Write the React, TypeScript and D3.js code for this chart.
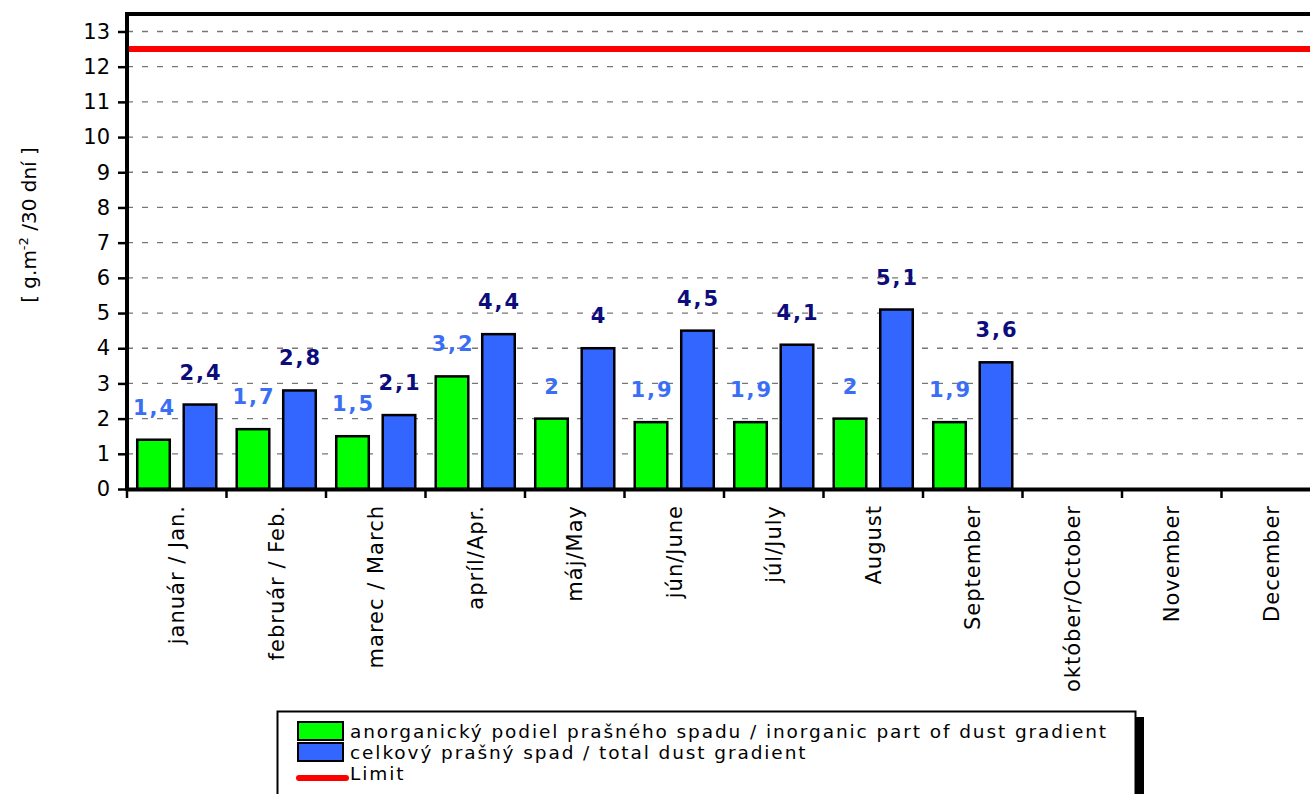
import { useEffect, useRef } from "react";
import * as d3 from "d3";

const months = [
  "január / Jan.",
  "február / Feb.",
  "marec / March",
  "apríl/Apr.",
  "máj/May",
  "jún/June",
  "júl/July",
  "August",
  "September",
  "október/October",
  "November",
  "December",
];
// inorganic part (green), total dust (blue); null = no data yet
const inorganic = [1.4, 1.7, 1.5, 3.2, 2, 1.9, 1.9, 2, 1.9, null, null, null];
const total = [2.4, 2.8, 2.1, 4.4, 4, 4.5, 4.1, 5.1, 3.6, null, null, null];
const limit = 12.5;
const yTicks = [0, 1, 2, 3, 4, 5, 6, 7, 8, 9, 10, 11, 12, 13];
const legendLabels = [
  "anorganický podiel prašného spadu / inorganic part of dust gradient",
  "celkový prašný spad / total dust gradient",
  "Limit",
];

const FONT = "'Comic Sans MS', 'DejaVu Sans', sans-serif";

const App = () => {
  const svgRef = useRef<SVGSVGElement | null>(null);

  useEffect(() => {
    const svg = d3.select(svgRef.current);
    svg.selectAll("*").remove();

    const left = 127;
    const right = 1321;
    const bottom = 489;
    const top = 14;

    const x = d3.scaleBand().domain(months).range([left, right]);
    const inner = d3
      .scaleBand()
      .domain(["g", "b"])
      .range([0, x.bandwidth()])
      .paddingInner(0.3)
      .paddingOuter(0.22);
    const y = d3.scaleLinear().domain([0, 13]).range([bottom, 31.5]);

    // grid
    svg
      .append("g")
      .selectAll("line")
      .data(yTicks.filter((d) => d > 0))
      .enter()
      .append("line")
      .attr("x1", left)
      .attr("x2", right)
      .attr("y1", (d) => y(d))
      .attr("y2", (d) => y(d))
      .attr("stroke", "#777")
      .attr("stroke-width", 1.3)
      .attr("stroke-dasharray", "6,9");

    // top border
    svg
      .append("line")
      .attr("x1", left)
      .attr("x2", right)
      .attr("y1", top)
      .attr("y2", top)
      .attr("stroke", "#000")
      .attr("stroke-width", 4);

    // limit line
    svg
      .append("line")
      .attr("x1", left)
      .attr("x2", right)
      .attr("y1", y(limit))
      .attr("y2", y(limit))
      .attr("stroke", "#ff0000")
      .attr("stroke-width", 6);

    const series = [
      { key: "g", values: inorganic, fill: "#00ff00", label: "#3a6ff5" },
      { key: "b", values: total, fill: "#3366ff", label: "#0c0c7c" },
    ];

    series.forEach((s) => {
      const rows = months
        .map((m, i) => ({ m, v: s.values[i] }))
        .filter((d) => d.v != null) as { m: string; v: number }[];
      const g = svg.append("g");
      g.selectAll("rect")
        .data(rows)
        .enter()
        .append("rect")
        .attr("x", (d) => (x(d.m) as number) + (inner(s.key) as number))
        .attr("y", (d) => y(d.v))
        .attr("width", inner.bandwidth())
        .attr("height", (d) => bottom - y(d.v))
        .attr("fill", s.fill)
        .attr("stroke", "#000")
        .attr("stroke-width", 2.5);
      g.selectAll("text")
        .data(rows)
        .enter()
        .append("text")
        .attr(
          "x",
          (d) => (x(d.m) as number) + (inner(s.key) as number) + inner.bandwidth() / 2 + 1
        )
        .attr("y", (d) => y(d.v) - 25)
        .attr("text-anchor", "middle")
        .attr("font-family", FONT)
        .attr("font-weight", "bold")
        .attr("font-size", 21)
        .attr("letter-spacing", 2)
        .attr("fill", s.label)
        .text((d) => String(d.v).replace(".", ","));
    });

    // y axis
    const yAxis = svg
      .append("g")
      .attr("transform", `translate(${left},0)`)
      .call(d3.axisLeft(y).tickValues(yTicks).tickSize(9).tickPadding(8).tickSizeOuter(0));
    yAxis.select(".domain").remove();
    yAxis.selectAll(".tick line").attr("stroke-width", 2.5);
    yAxis
      .selectAll(".tick text")
      .attr("font-family", FONT)
      .attr("font-size", 21)
      .attr("fill", "#000");
    svg
      .append("line")
      .attr("x1", left)
      .attr("x2", left)
      .attr("y1", top - 2)
      .attr("y2", bottom + 2)
      .attr("stroke", "#000")
      .attr("stroke-width", 4);

    // x axis
    const xAxis = svg
      .append("g")
      .attr("transform", `translate(0,${bottom})`)
      .call(d3.axisBottom(x).tickSize(0).tickSizeOuter(0));
    xAxis.select(".domain").attr("stroke-width", 4);
    xAxis
      .selectAll(".tick text")
      .attr("font-family", FONT)
      .attr("font-size", 21)
      .attr("letter-spacing", 1)
      .attr("fill", "#000")
      .attr("text-anchor", "end")
      .attr("transform", "rotate(-90)")
      .attr("x", -16)
      .attr("y", 0)
      .attr("dy", "0.35em");
    // category boundary ticks
    svg
      .append("g")
      .selectAll("line")
      .data(months)
      .enter()
      .append("line")
      .attr("x1", (d) => x(d) as number)
      .attr("x2", (d) => x(d) as number)
      .attr("y1", bottom)
      .attr("y2", bottom + 9)
      .attr("stroke", "#000")
      .attr("stroke-width", 2.5);

    // y title
    const yt = svg
      .append("text")
      .attr("transform", `translate(36,${225}) rotate(-90)`)
      .attr("text-anchor", "middle")
      .attr("font-family", "'DejaVu Sans', sans-serif")
      .attr("font-size", 20)
      .attr("fill", "#000");
    yt.append("tspan").text("[ g.m");
    yt.append("tspan").attr("dy", -8).attr("font-size", 13).text("-2");
    yt.append("tspan").attr("dy", 8).text(" /30 dní ]");

    // legend
    const lg = svg.append("g");
    lg.append("rect")
      .attr("x", 284)
      .attr("y", 717)
      .attr("width", 860)
      .attr("height", 90)
      .attr("fill", "#000");
    lg.append("rect")
      .attr("x", 277.5)
      .attr("y", 711.5)
      .attr("width", 858)
      .attr("height", 90)
      .attr("fill", "#fff")
      .attr("stroke", "#000")
      .attr("stroke-width", 2);
    const items = [
      { type: "rect", fill: "#00ff00" },
      { type: "rect", fill: "#3366ff" },
      { type: "line", fill: "#ff0000" },
    ];
    items.forEach((it, i) => {
      const cy = 731 + i * 21;
      if (it.type === "rect") {
        lg.append("rect")
          .attr("x", 298)
          .attr("y", cy - 9)
          .attr("width", 45)
          .attr("height", 18)
          .attr("fill", it.fill)
          .attr("stroke", "#000")
          .attr("stroke-width", 2);
      } else {
        lg.append("line")
          .attr("x1", 299)
          .attr("x2", 346)
          .attr("y1", cy + 5)
          .attr("y2", cy + 5)
          .attr("stroke", it.fill)
          .attr("stroke-width", 6)
          .attr("stroke-linecap", "round");
      }
      lg.append("text")
        .attr("x", 350)
        .attr("y", cy + 7)
        .attr("font-family", FONT)
        .attr("font-size", 18.5)
        .attr("letter-spacing", 1.9)
        .attr("fill", "#000")
        .text(legendLabels[i]);
    });
  }, []);

  return (
    <div style={{ position: "absolute", left: 0, top: 0 }}>
      <svg ref={svgRef} width={1310} height={794} style={{ display: "block", background: "#fff" }} />
    </div>
  );
};

export default App;
